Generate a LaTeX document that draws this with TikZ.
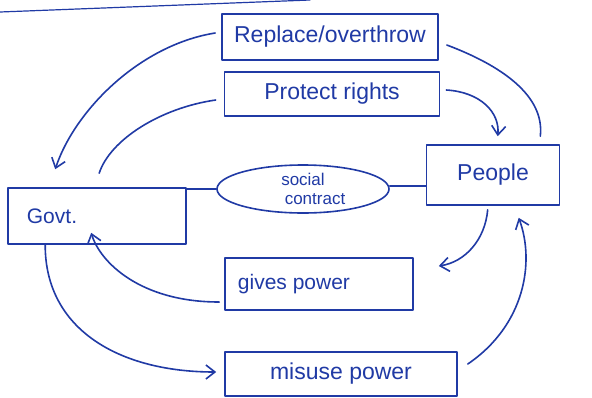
\documentclass[tikz,border=0pt]{standalone}
\usepackage{fontspec}
\setmainfont{Liberation Sans}
\usetikzlibrary{arrows.meta,shapes.geometric,calc}
\definecolor{ink}{RGB}{32,58,165}
\begin{document}
\begin{tikzpicture}[x=1pt,y=-1pt,
  ink/.style={draw=ink,line width=1.6pt,line cap=round,line join=round},
  box/.style={ink,rectangle,inner sep=0pt,text=ink},
  link/.style={ink},
  flow/.style={ink,-{Straight Barb[length=9pt,width=14pt,line width=1.6pt]}},
  big/.style={font=\fontsize{23}{26}\selectfont},
  mid/.style={font=\fontsize{21}{24}\selectfont}]
\useasboundingbox (0,0) rectangle (592,397);
\fill[white] (0,0) rectangle (592,397);
% edge of the sheet above
\draw[ink,line width=1.2pt] (0,12) -- (310,0);

% boxes
\node[box,big,minimum width=216pt,minimum height=46pt] (replace) at (330,37) {Replace/overthrow};
\node[box,big,minimum width=215pt,minimum height=44pt] (protect) at (332,94) {Protect rights};
\node[box,mid,minimum width=178pt,minimum height=56pt] (govt) at (97,216) {\hspace*{-90pt}Govt.};
\node[ink,ellipse,inner sep=0pt,minimum width=172pt,minimum height=48pt,text=ink,align=center,
      font=\fontsize{17}{19}\selectfont] (social) at (303,189) {social\\\hspace*{24pt}contract};
\node[box,big,minimum width=133pt,minimum height=60pt] (people) at (493,175) {People};
\node[box,mid,minimum width=188pt,minimum height=52pt] (gives) at (319,284) {\hspace*{-50pt}gives power};
\node[box,big,minimum width=232pt,minimum height=44pt] (misuse) at (341,374) {misuse power};

% named free ends
\coordinate (gtopA) at ($(govt.north west)+(48,-18)$);
\coordinate (gtopB) at ($(govt.north west)+(92,-14)$);
\coordinate (gbotA) at ($(govt.south west)+(84,-12)$);
\coordinate (gbotB) at ($(govt.south west)+(38,0)$);
\coordinate (ptopA) at ($(people.north west)+(72,-8)$);
\coordinate (ptopB) at ($(people.north east)+(-20,-8)$);
\coordinate (pbotA) at ($(people.south west)+(62,4)$);
\coordinate (pbotB) at ($(people.south west)+(93,12)$);

% social contract links
\draw[link] (social.west -| govt.east) -- (social.west);
\draw[link] ($(social.east)+(0,-3)$) -- ($(social.east -| people.west)+(0,-3)$);

% cycle arrows
\draw[flow] ($(replace.west)+(-6,-4)$) .. controls (140,45) and (75,110) .. (gtopA);
\draw[link] ($(protect.west)+(-8,6)$) .. controls (160,108) and (110,140) .. (gtopB);
\draw[link] ($(replace.east)+(8,8)$) .. controls (500,65) and (545,95) .. (ptopB);
\draw[flow] ($(protect.east)+(6,-4)$) .. controls (480,92) and (500,112) .. (ptopA);
\draw[flow] (pbotA) .. controls (485,240) and (465,262) .. ($(gives.east)+(25,-18)$);
\draw[flow] ($(gives.west)+(-5,18)$) .. controls (140,302) and (100,262) .. (gbotA);
\draw[flow] (gbotB) .. controls (45,330) and (120,372) .. ($(misuse.west)+(-8,-2)$);
\draw[flow] ($(misuse.east)+(10,-10)$) .. controls (525,325) and (535,262) .. (pbotB);
\end{tikzpicture}
\end{document}
